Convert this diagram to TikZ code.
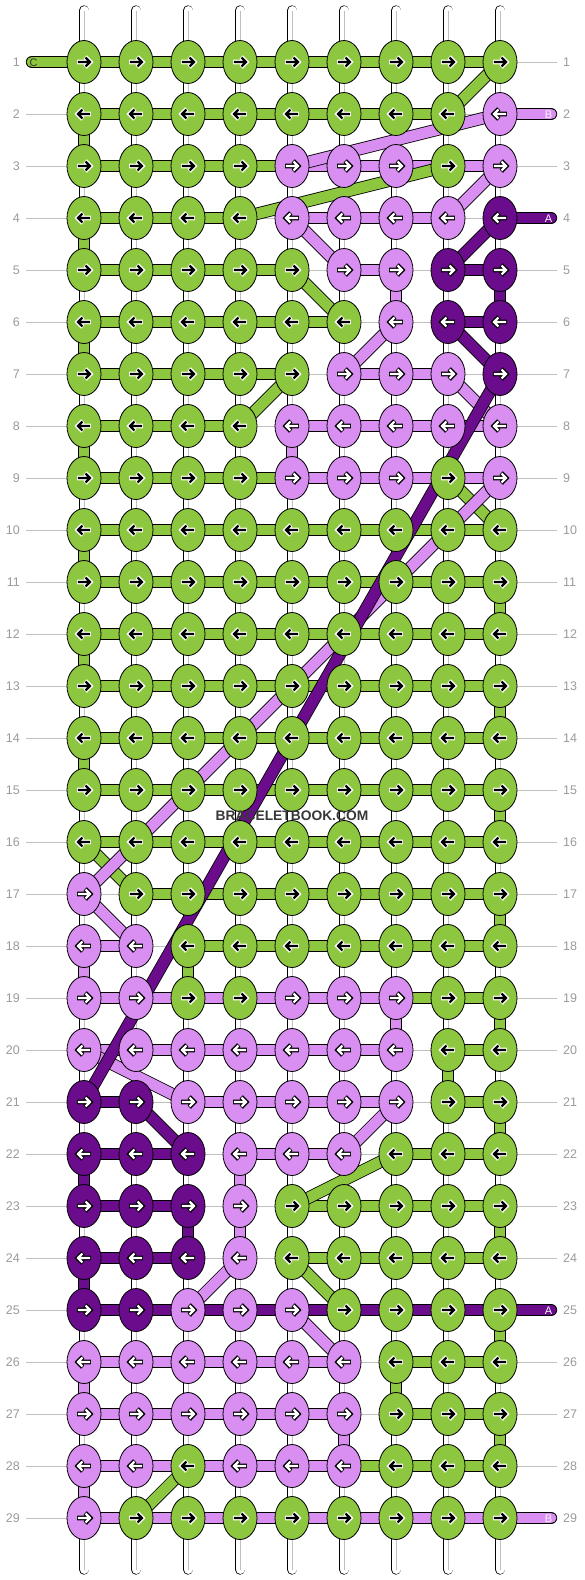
\documentclass[tikz,border=0pt]{standalone}
\usepackage{fontspec}
\setmainfont{Liberation Sans}
\usepackage{tikz}
\usetikzlibrary{shapes.geometric}
\definecolor{Lime}{RGB}{141,198,63}
\definecolor{Lila}{RGB}{217,142,242}
\definecolor{Plum}{RGB}{106,12,140}
\definecolor{Guide}{RGB}{192,192,192}
\definecolor{Num}{RGB}{155,155,155}
\colorlet{knG}{Lime}\colorlet{knL}{Lila}\colorlet{knD}{Plum}
\colorlet{arG}{black}\colorlet{arL}{white}\colorlet{arD}{white}
\colorlet{haG}{white}\colorlet{haL}{black}\colorlet{haD}{black}

\pgfdeclarelayer{guides}
\pgfdeclarelayer{threads}
\pgfdeclarelayer{links}
\pgfsetlayers{guides,threads,links,main}

\tikzset{
  knot/.style={ellipse, draw=black, line width=0.8pt, minimum width=34pt,
               minimum height=43pt, inner sep=0pt},
  link/.style={draw=black, line width=0.8pt, double=#1, double distance=10.8pt},
  thread/.style={draw=black, line width=0.7pt, double=white, double distance=9pt,
                 line cap=round},
  tag/.style={font=\fontsize{12.5}{14}\selectfont, text=Num, inner sep=0pt},
  endtag/.style={font=\fontsize{11}{12}\selectfont, inner sep=0pt},
  pics/knarrow/.style 2 args={code={
    \draw[#2, line width=4.6pt, line join=miter] (-6.9,0) -- (5.6,0)
         (1.3,-5.2) -- (6.3,0) -- (1.3,5.2);
    \draw[#1, line width=2.3pt, line join=miter] (-6.1,0) -- (5.4,0)
         (1.6,-4.5) -- (5.9,0) -- (1.6,4.5);
  }}
}

% rows of knots, left to right
\def\knots{1/{G,G,G,G,G,G,G,G,G}, 2/{G,G,G,G,G,G,G,G,L},
 3/{G,G,G,G,L,L,L,G,L}, 4/{G,G,G,G,L,L,L,L,D},
 5/{G,G,G,G,G,L,L,D,D}, 6/{G,G,G,G,G,G,L,D,D},
 7/{G,G,G,G,G,L,L,L,D}, 8/{G,G,G,G,L,L,L,L,L},
 9/{G,G,G,G,L,L,L,G,L}, 10/{G,G,G,G,G,G,G,G,G},
 11/{G,G,G,G,G,G,G,G,G}, 12/{G,G,G,G,G,G,G,G,G},
 13/{G,G,G,G,G,G,G,G,G}, 14/{G,G,G,G,G,G,G,G,G},
 15/{G,G,G,G,G,G,G,G,G}, 16/{G,G,G,G,G,G,G,G,G},
 17/{L,G,G,G,G,G,G,G,G}, 18/{L,L,G,G,G,G,G,G,G},
 19/{L,L,G,G,L,L,L,G,G}, 20/{L,L,L,L,L,L,L,G,G},
 21/{D,D,L,L,L,L,L,G,G}, 22/{D,D,D,L,L,L,G,G,G},
 23/{D,D,D,L,G,G,G,G,G}, 24/{D,D,D,L,G,G,G,G,G},
 25/{D,D,L,L,L,G,G,G,G}, 26/{L,L,L,L,L,L,G,G,G},
 27/{L,L,L,L,L,L,G,G,G}, 28/{L,L,G,L,L,L,G,G,G},
 29/{L,G,G,G,G,G,G,G,G}}

% row / from / to / colour
\def\bars{1/1/9/G, 2/1/8/G, 3/1/5/G, 3/5/9/L, 4/1/4/G, 4/5/8/L,
 5/1/5/G, 5/6/7/L, 5/8/9/D, 6/1/6/G, 6/8/9/D, 7/1/5/G, 7/6/8/L,
 8/1/4/G, 8/5/9/L, 9/1/5/G, 9/5/9/L, 10/1/9/G, 11/1/9/G, 12/1/9/G,
 13/1/9/G, 14/1/9/G, 15/1/9/G, 16/1/9/G, 17/2/9/G, 18/1/2/L, 18/3/9/G,
 19/1/7/L, 19/7/9/G, 20/1/7/L, 20/8/9/G, 21/1/2/D, 21/3/7/L, 21/8/9/G,
 22/1/3/D, 22/4/6/L, 22/7/9/G, 23/1/3/D, 23/5/9/G, 24/1/3/D, 24/5/9/G,
 25/1/9/D, 26/1/6/L, 26/7/9/G, 27/1/6/L, 27/7/9/G, 28/1/6/L, 28/6/9/G,
 29/1/9/L}

% row / column / colour, down to the next row
\def\drops{2/1/G, 4/1/G, 6/1/G, 8/1/G, 10/1/G, 11/9/G, 12/1/G, 13/9/G,
 14/1/G, 15/9/G, 17/9/G, 18/3/G, 19/9/G, 20/8/G, 21/9/G, 23/9/G, 25/9/G,
 26/7/G, 27/9/G, 5/7/L, 8/5/L, 18/1/L, 19/7/L, 22/4/L, 23/4/L, 26/1/L,
 27/6/L, 28/1/L, 5/9/D, 22/1/D, 23/3/D, 24/1/D}

\def\slants{1/9/2/8/G, 3/8/4/4/G, 5/5/6/6/G, 7/5/8/4/G, 9/8/10/9/G,
 16/1/17/2/G, 22/7/23/5/G, 24/5/25/6/G, 28/3/29/2/G,
 2/9/3/5/L, 3/9/4/8/L, 4/5/5/6/L, 6/7/7/6/L, 7/8/8/9/L, 9/9/17/1/L,
 17/1/18/2/L, 20/1/21/3/L, 21/7/22/6/L, 24/4/25/3/L, 25/5/26/6/L,
 4/9/5/8/D, 6/8/7/9/D, 7/9/21/1/D, 21/2/22/3/D}

\begin{document}
\begin{tikzpicture}[x=1pt,y=-1pt]
\useasboundingbox (0,0) rectangle (584,1580);

\begin{pgfonlayer}{guides}
  \fill[white] (0,0) rectangle (584,1580);
\end{pgfonlayer}

\foreach \r/\row in \knots {
  \pgfmathtruncatemacro\dir{2*mod(\r,2)-1}
  \node[tag, anchor=east] (l\r) at (20,{62+52*(\r-1)}) {\r};
  \node[tag, anchor=west] (r\r) at (563,{62+52*(\r-1)}) {\r};
  \begin{pgfonlayer}{guides}
    \draw[Guide, line width=0.8pt] ([xshift=6pt]l\r.east) -- ([xshift=-6pt]r\r.west);
  \end{pgfonlayer}
  \foreach \c [count=\i] in \row {
    \node[knot, fill=kn\c] (k\r-\i) at ({84+52*(\i-1)},{62+52*(\r-1)}) {};
    \pic[xscale=\dir] at (k\r-\i) {knarrow={ar\c}{ha\c}};
  }
}

\begin{pgfonlayer}{threads}
  \foreach \c in {1,...,9} {
    \coordinate (top\c) at ({84+52*(\c-1)},10.5);
    \coordinate (bot\c) at ({84+52*(\c-1)},1569.5);
    \draw[thread] (top\c) -- (bot\c);
    \draw[black!25, line width=0.6pt] (top\c) -- (bot\c);
  }
\end{pgfonlayer}

\begin{pgfonlayer}{links}
  \foreach \r/\a/\b/\col in \bars
    \draw[link=kn\col] (k\r-\a.center) -- (k\r-\b.center);
  \foreach \r/\c/\col [evaluate=\r as \s using int(\r+1)] in \drops
    \draw[link=kn\col] (k\r-\c.center) -- (k\s-\c.center);
  \foreach \ra/\ca/\rb/\cb/\col in \slants
    \draw[link=kn\col] (k\ra-\ca.center) -- (k\rb-\cb.center);

  \coordinate (endC) at (32,62);
  \coordinate (endB1) at (551,114);
  \coordinate (endA1) at (551,218);
  \coordinate (endA2) at (551,1310);
  \coordinate (endB2) at (551,1518);
  \draw[link=knG, line cap=round] (endC) -- (k1-1.center);
  \draw[link=knL, line cap=round] (k2-9.center) -- (endB1);
  \draw[link=knD, line cap=round] (k4-9.center) -- (endA1);
  \draw[link=knD, line cap=round] (k25-9.center) -- (endA2);
  \draw[link=knL, line cap=round] (k29-9.center) -- (endB2);
\end{pgfonlayer}

\node[endtag, text=black!80] (tagC) at (33.5,62.5) {C};
\node[endtag, text=white!92!Lila] (tagB1) at (548.5,114.5) {B};
\node[endtag, text=white!92!Lila] (tagA1) at (548.5,218.5) {A};
\node[endtag, text=white!92!Lila] (tagA2) at (548.5,1310.5) {A};
\node[endtag, text=white!92!Lila] (tagB2) at (548.5,1518.5) {B};

\node[font=\bf\fontsize{13.8}{15}\selectfont, text=black!78] (brand) at (292,815.5)
  {BRACELETBOOK.COM};
\end{tikzpicture}
\end{document}
